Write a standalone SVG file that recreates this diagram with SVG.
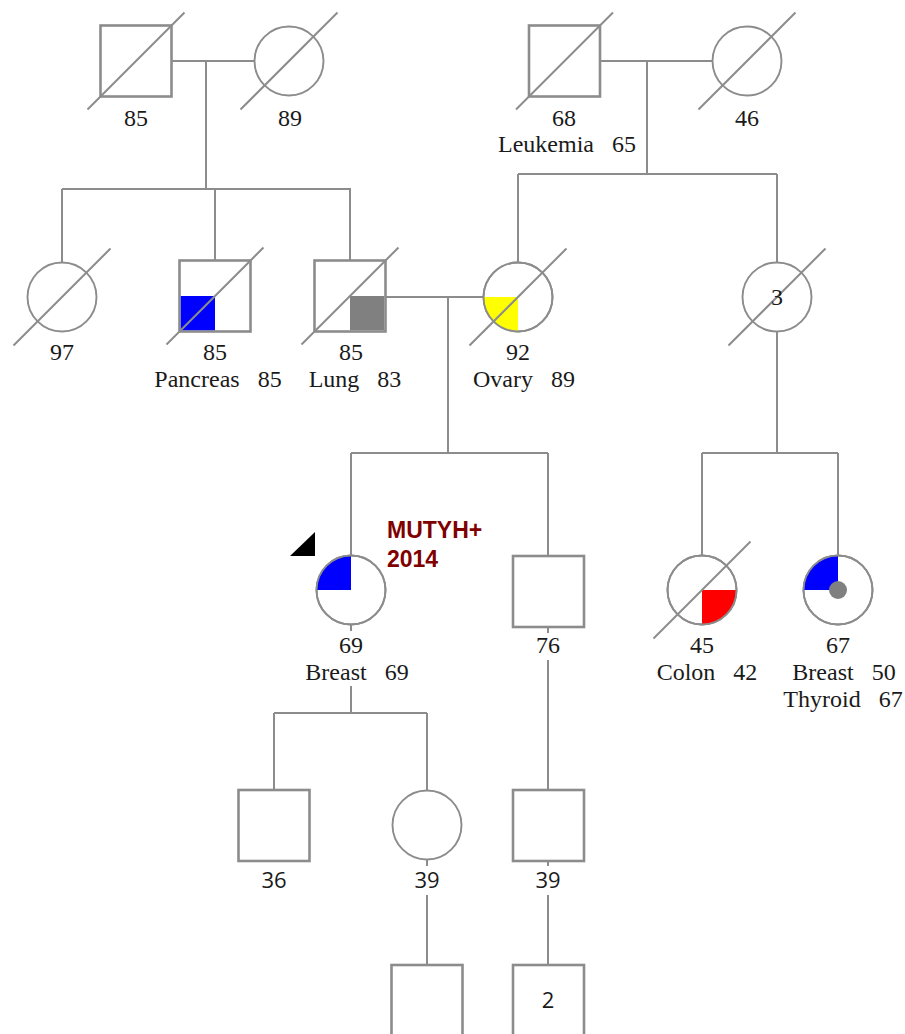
<svg xmlns="http://www.w3.org/2000/svg" width="905" height="1034" viewBox="0 0 905 1034">
<style>
.bg{fill:#fff}
.sq{fill:#fff;stroke:#8c8c8c;stroke-width:2.6}
.ci{fill:#fff;stroke:#8c8c8c;stroke-width:1.9}
.ln{fill:none;stroke:#8c8c8c;stroke-width:2}
.sl{stroke:#8c8c8c;stroke-width:2}
.lb{font-family:"Liberation Serif","Times New Roman",serif;font-size:24px;fill:#1a1a1a;text-anchor:middle}
.ls{font-family:"Open Sans","DejaVu Sans",sans-serif;font-size:22px;fill:#1a1a1a;text-anchor:middle}
.gt{font-family:"Liberation Sans",Arial,sans-serif;font-size:23px;font-weight:bold;fill:#800000}
.blue{fill:#0000ff}
.yel{fill:#ffff00}
.red{fill:#ff0000}
.gry{fill:#808080}
</style>
<rect class="bg" x="0" y="0" width="905" height="1034"/>
<g id="connectors">
<path class="ln" d="M171.5,61H254.5M206,61V189M62,189H351M62,189V262.5M215,189V260.5M350,189V260.5"/>
<path class="ln" d="M600,61H712.5M647,61V174M518,174H777M518,174V262.5M777,174V262.5"/>
<path class="ln" d="M385.5,297H483.5M448,297V453M351,453H548M351,453V555.5M548,453V556"/>
<path class="ln" d="M777,331.5V453M702,453H838M702,453V555.5M838,453V555.5"/>
<path class="ln" d="M351,624.5V631M351,686V713M274,713H427M274,713V790M427,713V790.5"/>
<path class="ln" d="M548,627V633M548,660V790"/>
<path class="ln" d="M427,859.5V866M427,895V965M548,861V866M548,895V965"/>
</g>
<g id="gen1-father-left">
<rect class="sq" x="100.5" y="25.5" width="71" height="71"/>
<line class="sl" x1="87.5" y1="109.5" x2="184.5" y2="12.5"/>
<text class="lb" x="136" y="126">85</text>
</g>
<g id="gen1-mother-left">
<circle class="ci" cx="289" cy="61" r="34.5"/>
<line class="sl" x1="240.5" y1="109.5" x2="337.5" y2="12.5"/>
<text class="lb" x="290" y="126">89</text>
</g>
<g id="gen1-father-right">
<rect class="sq" x="529" y="25.5" width="71" height="71"/>
<line class="sl" x1="516" y1="109.5" x2="613" y2="12.5"/>
<text class="lb" x="564" y="126">68</text>
<text class="lb" x="567" y="152">Leukemia&#160;&#160;&#160;65</text>
</g>
<g id="gen1-mother-right">
<circle class="ci" cx="747" cy="61" r="34.5"/>
<line class="sl" x1="698.5" y1="109.5" x2="795.5" y2="12.5"/>
<text class="lb" x="747" y="126">46</text>
</g>
<g id="gen2-aunt">
<circle class="ci" cx="62" cy="297" r="34.5"/>
<line class="sl" x1="13.5" y1="345.5" x2="110.5" y2="248.5"/>
<text class="lb" x="62" y="360">97</text>
</g>
<g id="gen2-uncle-pancreas">
<rect class="sq" x="179.5" y="260.5" width="71" height="71"/>
<rect class="blue" x="180.8" y="296" width="34.2" height="34.2"/>
<line class="sl" x1="166.5" y1="344.5" x2="263.5" y2="247.5"/>
<text class="lb" x="215" y="360">85</text>
<text class="lb" x="218" y="387">Pancreas&#160;&#160;&#160;85</text>
</g>
<g id="gen2-father-lung">
<rect class="sq" x="314.5" y="260.5" width="71" height="71"/>
<rect class="gry" x="350" y="296" width="34.2" height="34.2"/>
<line class="sl" x1="301.5" y1="344.5" x2="398.5" y2="247.5"/>
<text class="lb" x="351" y="360">85</text>
<text class="lb" x="355" y="387">Lung&#160;&#160;&#160;83</text>
</g>
<g id="gen2-mother-ovary">
<circle class="ci" cx="518" cy="297" r="34.5"/>
<path class="yel" d="M518,297H483.5A34.5,34.5 0 0 0 518,331.5Z"/>
<circle cx="518" cy="297" r="34.5" fill="none" stroke="#8c8c8c" stroke-width="1.9"/>
<line class="sl" x1="469.5" y1="345.5" x2="566.5" y2="248.5"/>
<text class="lb" x="518" y="360">92</text>
<text class="lb" x="524" y="387">Ovary&#160;&#160;&#160;89</text>
</g>
<g id="gen2-aunts-3">
<circle class="ci" cx="777" cy="297" r="34.5"/>
<line class="sl" x1="728.5" y1="345.5" x2="825.5" y2="248.5"/>
<text class="lb" x="777" y="305">3</text>
</g>
<g id="gen3-proband">
<polygon fill="#000" points="290,556 315,532 315,556"/>
<circle class="ci" cx="351" cy="590" r="34.5"/>
<path class="blue" d="M351,590H316.5A34.5,34.5 0 0 1 351,555.5Z"/>
<circle cx="351" cy="590" r="34.5" fill="none" stroke="#8c8c8c" stroke-width="1.9"/>
<text class="gt" x="387" y="538">MUTYH+</text>
<text class="gt" x="387" y="567">2014</text>
<text class="lb" x="351" y="653">69</text>
<text class="lb" x="357" y="680">Breast&#160;&#160;&#160;69</text>
</g>
<g id="gen3-brother">
<rect class="sq" x="513" y="556" width="71" height="71"/>
<text class="lb" x="548" y="653">76</text>
</g>
<g id="gen3-cousin-colon">
<circle class="ci" cx="702" cy="590" r="34.5"/>
<path class="red" d="M702,590H736.5A34.5,34.5 0 0 1 702,624.5Z"/>
<circle cx="702" cy="590" r="34.5" fill="none" stroke="#8c8c8c" stroke-width="1.9"/>
<line class="sl" x1="653.5" y1="638.5" x2="750.5" y2="541.5"/>
<text class="lb" x="702" y="653">45</text>
<text class="lb" x="707" y="680">Colon&#160;&#160;&#160;42</text>
</g>
<g id="gen3-cousin-breast-thyroid">
<circle class="ci" cx="838" cy="590" r="34.5"/>
<path class="blue" d="M838,590H803.5A34.5,34.5 0 0 1 838,555.5Z"/>
<circle cx="838" cy="590" r="34.5" fill="none" stroke="#8c8c8c" stroke-width="1.9"/>
<circle class="gry" cx="838" cy="590" r="9"/>
<text class="lb" x="838" y="653">67</text>
<text class="lb" x="844" y="680">Breast&#160;&#160;&#160;50</text>
<text class="lb" x="843" y="707">Thyroid&#160;&#160;&#160;67</text>
</g>
<g id="gen4-son">
<rect class="sq" x="238.5" y="790" width="71" height="71"/>
<text class="ls" x="274" y="888">36</text>
</g>
<g id="gen4-daughter">
<circle class="ci" cx="427" cy="825" r="34.5"/>
<text class="ls" x="427" y="888">39</text>
</g>
<g id="gen4-nephew">
<rect class="sq" x="513" y="790" width="71" height="71"/>
<text class="ls" x="548" y="888">39</text>
</g>
<g id="gen5-grandson">
<rect class="sq" x="391.5" y="965" width="71" height="71"/>
</g>
<g id="gen5-grandsons-2">
<rect class="sq" x="513" y="965" width="71" height="71"/>
<text class="ls" x="548" y="1008">2</text>
</g>
</svg>
